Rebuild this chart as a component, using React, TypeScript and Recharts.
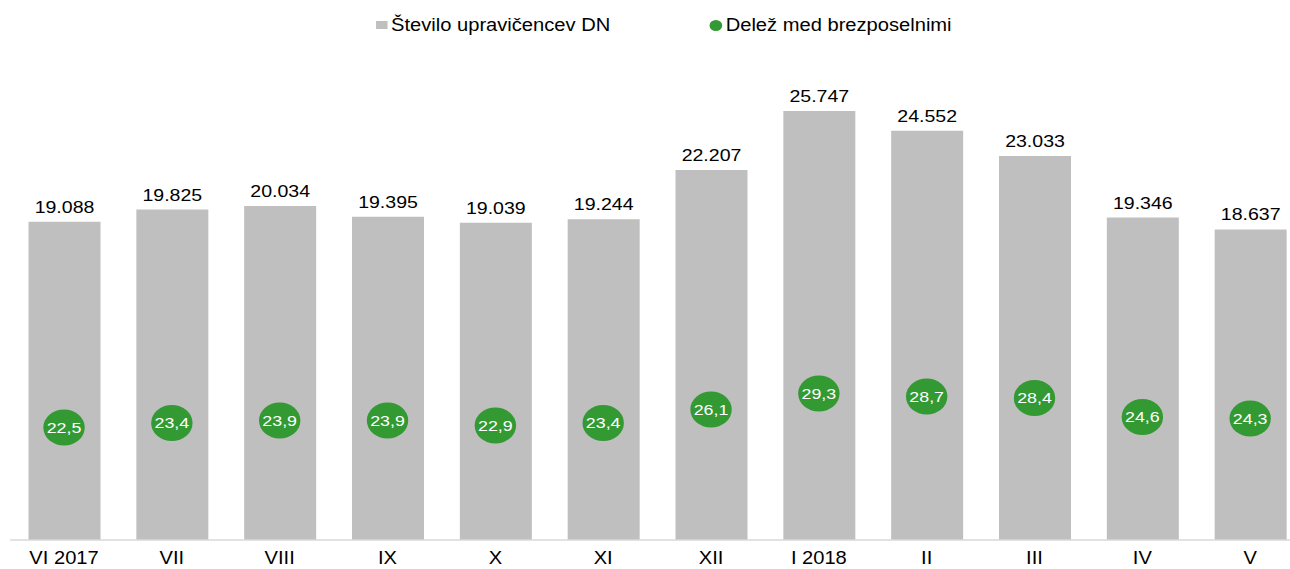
import React from "react";
import {
  ComposedChart,
  Bar,
  Line,
  XAxis,
  YAxis,
  LabelList,
} from "recharts";

// data
const months = ["VI 2017", "VII", "VIII", "IX", "X", "XI", "XII", "I 2018", "II", "III", "IV", "V"];
const recipients = [19088, 19825, 20034, 19395, 19039, 19244, 22207, 25747, 24552, 23033, 19346, 18637];
const shareUnemployed = [22.5, 23.4, 23.9, 23.9, 22.9, 23.4, 26.1, 29.3, 28.7, 28.4, 24.6, 24.3];

const BAR_COLOR = "#bfbfbf";
const DOT_COLOR = "#339933";
const FONT = "'Liberation Sans', Arial, sans-serif";

// the original picture is stretched horizontally, so we draw narrower and scale
const STRETCH = 1.15;
const W = 1139;
const H = 569;

const data = months.map((m, i) => ({
  month: m,
  recipients: recipients[i],
  share: shareUnemployed[i],
}));

const fmtThousands = (v: any) =>
  String(v).replace(/\B(?=(\d{3})+(?!\d))/g, ".");

const ShareDot = (props: any) => {
  const { cx, cy, payload, index } = props;
  if (cx == null || cy == null) return null;
  return (
    <g key={`dot-${index}`}>
      <circle cx={cx} cy={cy} r={18} fill={DOT_COLOR} />
      <text
        x={cx}
        y={cy}
        textAnchor="middle"
        dominantBaseline="central"
        fill="#ffffff"
        fontSize={15.5}
        fontFamily={FONT}
      >
        {String(payload.share.toFixed(1)).replace(".", ",")}
      </text>
    </g>
  );
};

export default function App() {
  return (
    <div
      style={{
        position: "absolute",
        left: 0,
        top: 0,
        width: 1290,
        height: H,
        overflow: "hidden",
        background: "#fff",
      }}
    >
      <div
        style={{
          position: "relative",
          width: W,
          height: H,
          transform: `scaleX(${STRETCH})`,
          transformOrigin: "0 0",
        }}
      >
        {/* legend */}
        <div
          style={{
            position: "absolute",
            top: 15,
            left: 327,
            display: "flex",
            alignItems: "center",
            fontFamily: FONT,
            fontSize: 17.5,
            lineHeight: "20px",
            color: "#000",
            whiteSpace: "nowrap",
          }}
        >
          <span style={{ display: "inline-block", width: 9.5, height: 8, background: BAR_COLOR, marginRight: 3.5 }} />
          <span>Število upravičencev DN</span>
        </div>
        <div
          style={{
            position: "absolute",
            top: 15,
            left: 617,
            display: "flex",
            alignItems: "center",
            fontFamily: FONT,
            fontSize: 17.5,
            lineHeight: "20px",
            color: "#000",
            whiteSpace: "nowrap",
          }}
        >
          <span style={{ display: "inline-block", width: 11, height: 11, borderRadius: "50%", background: DOT_COLOR, marginRight: 3 }} />
          <span>Delež med brezposelnimi</span>
        </div>

        <ComposedChart
          width={W}
          height={H}
          data={data}
          margin={{ top: 40, right: 5, bottom: 0, left: 8.8 }}
        >
          <XAxis
            dataKey="month"
            height={29}
            axisLine={{ stroke: "#d9d9d9", strokeWidth: 1.5 }}
            tickLine={false}
            tickSize={6}
            tickMargin={6}
            interval={0}
            tick={{ fill: "#000", fontSize: 17.5, fontFamily: FONT }}
          />
          <YAxis yAxisId="left" hide domain={[0, 30000]} />
          <YAxis yAxisId="right" orientation="right" hide domain={[0, 100]} />
          <Bar
            yAxisId="left"
            dataKey="recipients"
            fill={BAR_COLOR}
            barSize={62.6}
            isAnimationActive={false}
          >
            <LabelList
              dataKey="recipients"
              position="top"
              offset={9}
              formatter={fmtThousands}
              style={{ fill: "#000", fontSize: 17, fontFamily: FONT }}
            />
          </Bar>
          <Line
            yAxisId="right"
            dataKey="share"
            stroke="none"
            dot={ShareDot}
            activeDot={false}
            isAnimationActive={false}
          />
        </ComposedChart>
      </div>
    </div>
  );
}
